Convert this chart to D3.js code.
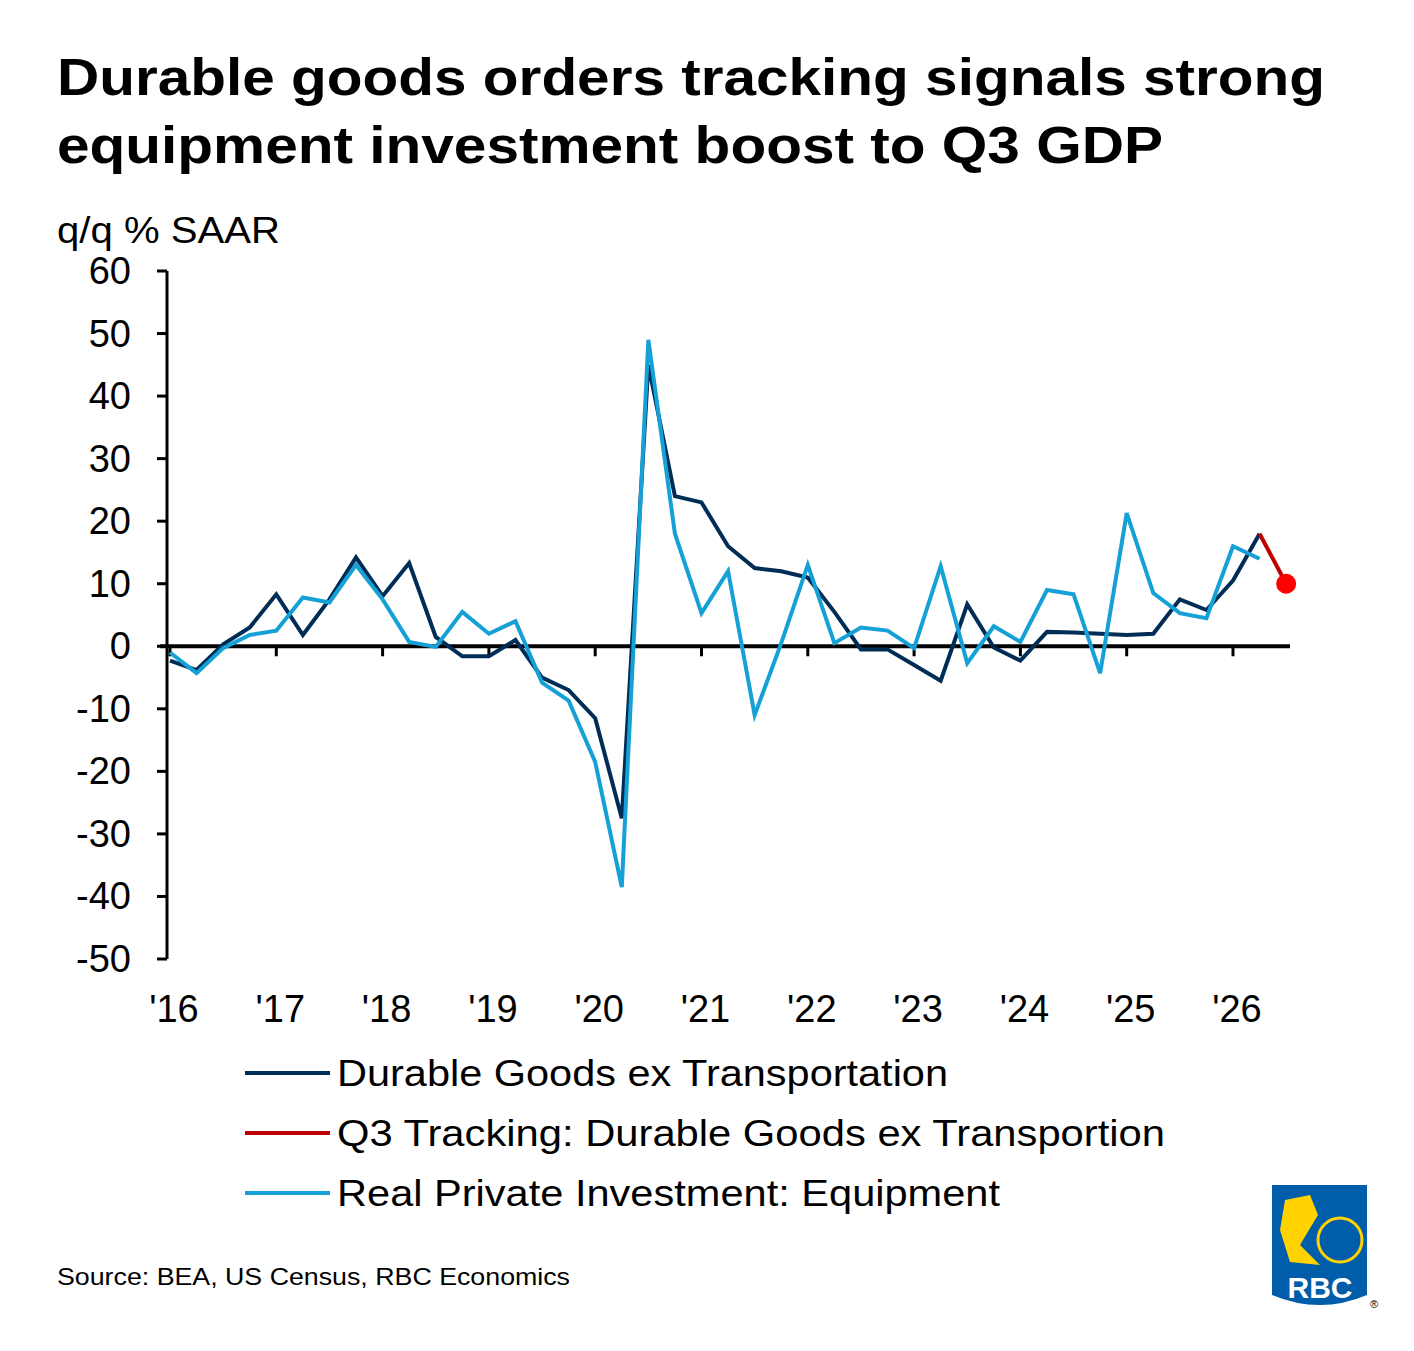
<!DOCTYPE html>
<html><head><meta charset="utf-8">
<script src="https://cdn.jsdelivr.net/npm/d3@7"></script>
<style>body{margin:0;background:#fff}text{font-family:"Liberation Sans",Arial,sans-serif}</style>
</head><body>
<svg id="chart" width="1414" height="1351"></svg>
<script>
// quarterly data, 2016Q1 .. 2026Q2
var durables = [-2.3,-3.8,0.3,3, 8.3,1.8,7.5,14.2, 8,13.3,1.5,-1.6, -1.6,1,-5,-7,
  -11.5,-27.5,45,24, 23,16,12.5,12, 11,5.5,-0.5,-0.5, -3,-5.5,6.7,-0.2,
  -2.3,2.3,2.2,2, 1.8,2,7.5,5.8, 10.5,18];
var equipment = [-1,-4.3,-0.3,1.8, 2.5,7.8,7,13, 7.5,0.7,-0.1,5.5, 2,4,-5.8,-8.7,
  -18.5,-38.5,49,18, 5.3,12,-11,0.5, 13,0.5,3,2.5, -0.3,12.8,-2.7,3.2,
  0.7,9,8.3,-4.3, 21.3,8.5,5.3,4.5, 16,14];
var tracking = [18, 10];   // 2026Q2 -> 2026Q3
var years = ["'16","'17","'18","'19","'20","'21","'22","'23","'24","'25","'26"];
var yTicks = [60,50,40,30,20,10,0,-10,-20,-30,-40,-50];
var legendNames = ["Durable Goods ex Transportation","Q3 Tracking: Durable Goods ex Transportion","Real Private Investment: Equipment"];
var legendWidths = [611, 828, 663];
var colors = ["#002d56","#c00000","#15a0d6"];

var svg = d3.select("#chart");
var x = d3.scaleLinear().domain([0, 10]).range([170, 1233]);
var y = d3.scaleLinear().domain([-50, 60]).range([959, 271]);
function qx(i) { return x(i / 4); }

function wideText(tx, ty, size, w, s, bold) {
  var t = svg.append("text").attr("x",tx).attr("y",ty).attr("font-size",size)
    .attr("textLength",w).attr("lengthAdjust","spacingAndGlyphs").text(s);
  if (bold) t.attr("font-weight","bold");
  return t;
}
wideText(57, 95, 52, 1268, "Durable goods orders tracking signals strong", true);
wideText(57, 163, 52, 1106, "equipment investment boost to Q3 GDP", true);
wideText(57, 243, 37, 223, "q/q % SAAR");

// y axis
svg.append("line").attr("x1",167).attr("x2",167).attr("y1",271).attr("y2",959).attr("stroke","#000").attr("stroke-width",3);
svg.selectAll(".yt").data(yTicks).enter().append("line")
  .attr("x1",157).attr("x2",167).attr("y1",y).attr("y2",y).attr("stroke","#000").attr("stroke-width",3);
svg.selectAll(".yl").data(yTicks).enter().append("text")
  .attr("x",131).attr("y",function(d){return y(d)+13;}).attr("text-anchor","end").attr("font-size",38).text(function(d){return d;});

// x axis at zero
svg.append("line").attr("x1",160).attr("x2",1290).attr("y1",y(0)).attr("y2",y(0)).attr("stroke","#000").attr("stroke-width",4);
svg.selectAll(".xt").data(years).enter().append("line")
  .attr("x1",function(d,i){return x(i);}).attr("x2",function(d,i){return x(i);})
  .attr("y1",y(0)).attr("y2",y(0)+10).attr("stroke","#000").attr("stroke-width",3);
svg.selectAll(".xl").data(years).enter().append("text")
  .attr("x",function(d,i){return x(i)+4;}).attr("y",1022).attr("text-anchor","middle").attr("font-size",38).text(function(d){return d;});

var line = d3.line().x(function(d,i){return qx(i);}).y(function(d){return y(d);});
svg.append("path").datum(durables).attr("d",line).attr("fill","none").attr("stroke",colors[0]).attr("stroke-width",4);
svg.append("path").datum(equipment).attr("d",line).attr("fill","none").attr("stroke",colors[2]).attr("stroke-width",4);
var tline = d3.line().x(function(d,i){return qx(41+i);}).y(function(d){return y(d);});
svg.append("path").datum(tracking).attr("d",tline).attr("fill","none").attr("stroke",colors[1]).attr("stroke-width",4);
svg.append("circle").attr("cx",qx(42)).attr("cy",y(tracking[1])).attr("r",10).attr("fill","#ff0000");

// legend
legendNames.forEach(function(n,i){
  var ly = 1073 + i*60;
  svg.append("line").attr("x1",245).attr("x2",330).attr("y1",ly).attr("y2",ly).attr("stroke",colors[i]).attr("stroke-width",4);
  wideText(337, ly+13, 37, legendWidths[i], n);
});

wideText(57, 1285, 24, 513, "Source: BEA, US Census, RBC Economics");

// logo
var lg = svg.append("g");
lg.append("path").attr("d","M1272,1185 H1367 V1295 Q1320,1315 1272,1295 Z").attr("fill","#005daa");
lg.append("circle").attr("cx",1340).attr("cy",1240).attr("r",22).attr("fill","none").attr("stroke","#ffd200").attr("stroke-width",3);
lg.append("path").attr("d","M1285,1200 L1310,1195 L1318,1215 L1300,1245 L1320,1265 L1290,1262 L1280,1230 Z").attr("fill","#ffd200");
lg.append("text").attr("x",1320).attr("y",1298).attr("text-anchor","middle").attr("font-size",30).attr("font-weight","bold")
  .attr("fill","#fff").attr("font-family","Liberation Serif").text("RBC");
lg.append("text").attr("x",1370).attr("y",1308).attr("font-size",11).text("®");
</script>
</body></html>
